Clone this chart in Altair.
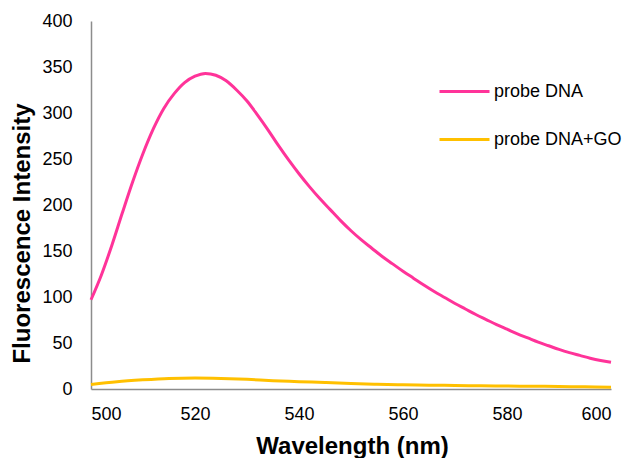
import altair as alt
import pandas as pd

series_names = ["probe DNA", "probe DNA+GO"]
series_colors = ["#FF3399", "#FFC000"]

wl_probe = list(range(500, 601, 2))
probe = [97, 124, 156, 191, 225, 256, 283, 305, 321, 333,
         340, 343, 341, 335, 325, 313, 298, 282, 265, 249,
         234, 220, 207, 195, 183, 172, 162, 153, 144, 136,
         128, 120.5, 113, 106, 99.5, 93, 87, 81, 75.5, 70,
         65, 60, 55.5, 51, 47, 43, 39.5, 36.5, 33.5, 31, 29]

wl_go = list(range(500, 601, 5))
probe_go = [5, 8, 10, 11.5, 12, 11.5, 10.5, 9, 8, 7,
            6, 5.2, 4.6, 4.2, 3.8, 3.5, 3.2, 3.0, 2.7, 2.4, 2.0]

x_ticks = [500, 520, 540, 560, 580, 600]
y_ticks = [0, 50, 100, 150, 200, 250, 300, 350, 400]

df = pd.concat([
    pd.DataFrame({"wl": wl_probe, "val": probe, "series": series_names[0]}),
    pd.DataFrame({"wl": wl_go, "val": probe_go, "series": series_names[1]}),
])

FONT = "Liberation Sans"

chart = alt.Chart(df).mark_line(strokeWidth=3, interpolate="monotone").encode(
    x=alt.X("wl:Q", title="Wavelength (nm)",
            scale=alt.Scale(domain=[500, 600], nice=False, zero=False),
            axis=alt.Axis(values=x_ticks, labelPadding=16, titleX=261, titleY=64,
                          titleBaseline="alphabetic", titleAlign="center")),
    y=alt.Y("val:Q", title="Fluorescence Intensity",
            scale=alt.Scale(domain=[0, 400], nice=False),
            axis=alt.Axis(values=y_ticks, labelPadding=19, titleX=-62, titleY=212,
                          titleBaseline="alphabetic", titleAngle=-90, titleAlign="center")),
    color=alt.Color("series:N", sort=series_names,
                    scale=alt.Scale(domain=series_names, range=series_colors),
                    legend=alt.Legend(title=None, orient="none", legendX=347, legendY=44,
                                      symbolType="stroke", symbolSize=2500, symbolStrokeWidth=3,
                                      rowPadding=12, labelOffset=3, labelFont=FONT,
                                      labelFontSize=18, labelColor="black", labelLimit=0)),
    order=alt.Order("wl:Q"),
).properties(
    width=520, height=368,
    padding={"left": 91, "top": 21, "right": 22, "bottom": 69},
    autosize="none",
).configure_view(stroke=None).configure_axis(
    grid=False, ticks=False, tickSize=0,
    domainColor="#8c8c8c", domainWidth=1.5,
    labelFont=FONT, labelFontSize=18, labelColor="black",
    titleFont=FONT, titleFontSize=24, titleFontWeight="bold", titleColor="black",
)

chart.save("out.html", embed_options={"renderer": "svg", "actions": False})
